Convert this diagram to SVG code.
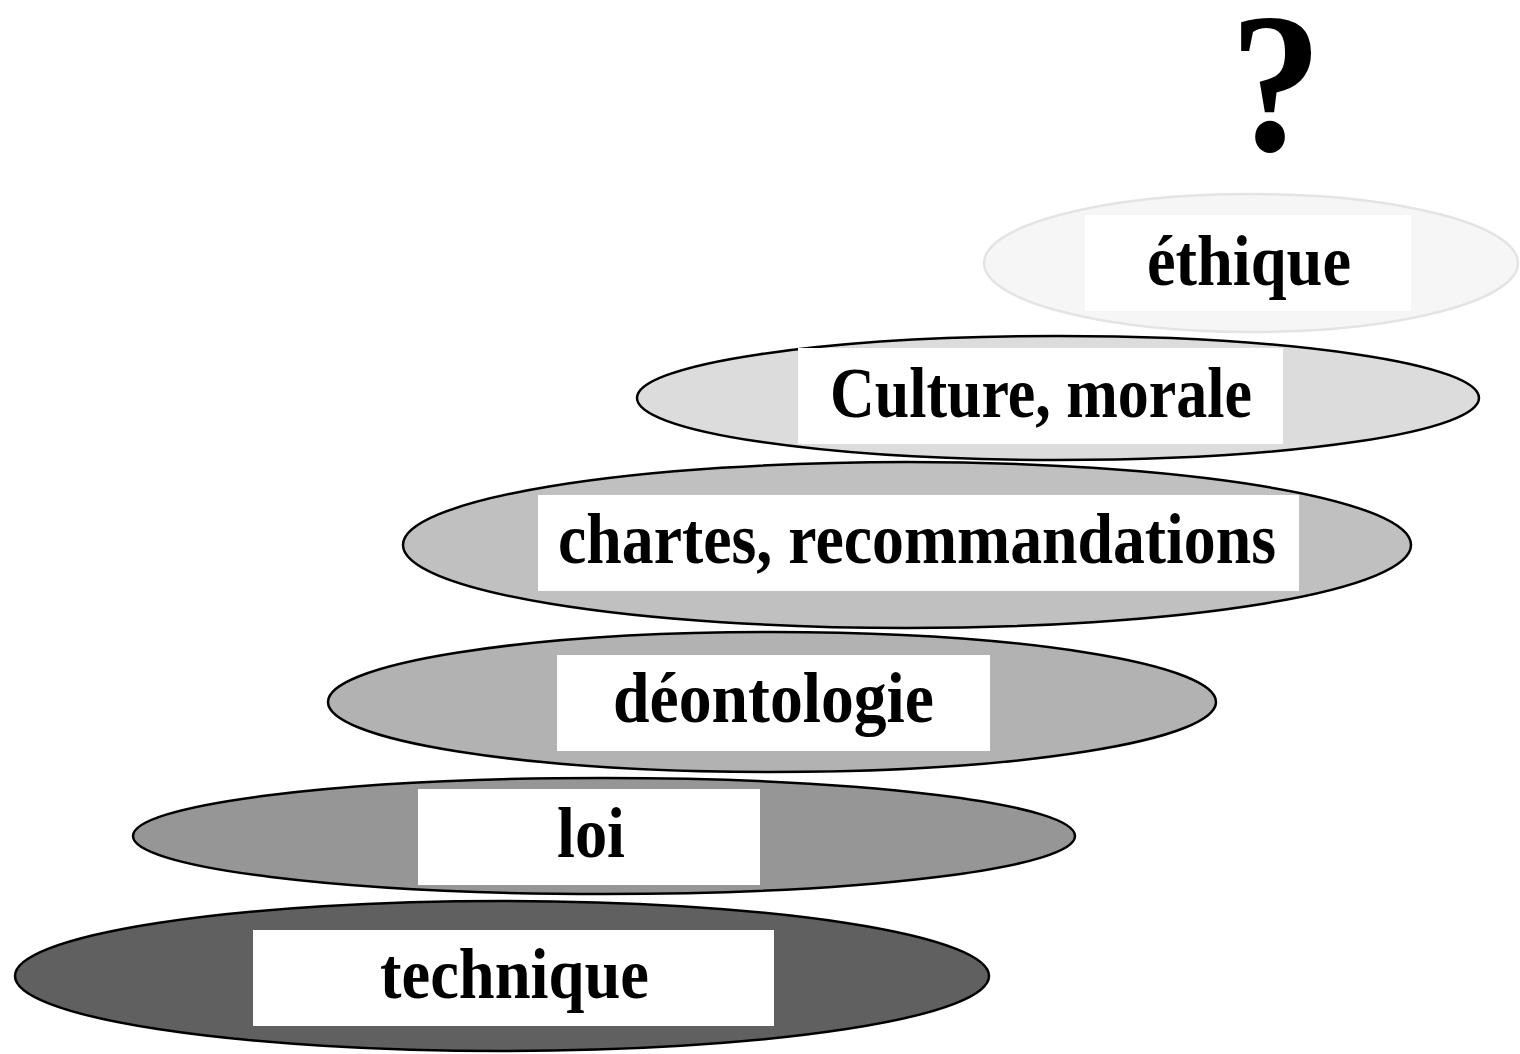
<svg xmlns="http://www.w3.org/2000/svg" width="1520" height="1054" viewBox="0 0 1520 1054">
<style>
.lvl{stroke:#000;stroke-width:2.5}
.box{fill:#fff}
.t{font-family:"Liberation Serif","Times New Roman",serif;font-weight:bold;font-size:72px;fill:#000}
</style>
<rect width="1520" height="1054" fill="#fff"/>
<g id="question">
<text class="t" x="1230" y="150" style="font-size:200px" textLength="92" lengthAdjust="spacingAndGlyphs">?</text>
</g>
<g id="ethique">
<ellipse cx="1251" cy="263" rx="267" ry="69" fill="#f6f6f6" stroke="#e4e4e4" stroke-width="2.5"/>
<rect class="box" x="1085" y="215" width="326" height="96"/>
<text class="t" x="1147" y="285" textLength="204" lengthAdjust="spacingAndGlyphs">éthique</text>
</g>
<g id="culture">
<ellipse class="lvl" cx="1058" cy="398" rx="421" ry="62" fill="#dcdcdc"/>
<rect class="box" x="798" y="348" width="485" height="96"/>
<text class="t" x="830" y="417" textLength="422" lengthAdjust="spacingAndGlyphs">Culture, morale</text>
</g>
<g id="chartes">
<ellipse class="lvl" cx="907" cy="545" rx="504" ry="83" fill="#c0c0c0"/>
<rect class="box" x="538" y="495" width="761" height="96"/>
<text class="t" x="558" y="563" textLength="718" lengthAdjust="spacingAndGlyphs">chartes, recommandations</text>
</g>
<g id="deontologie">
<ellipse class="lvl" cx="772" cy="702" rx="444" ry="70" fill="#b2b2b2"/>
<rect class="box" x="557" y="655" width="433" height="96"/>
<text class="t" x="613" y="722" textLength="321" lengthAdjust="spacingAndGlyphs">déontologie</text>
</g>
<g id="loi">
<ellipse class="lvl" cx="604" cy="836" rx="471" ry="58" fill="#969696"/>
<rect class="box" x="418" y="789" width="342" height="96"/>
<text class="t" x="557" y="857" textLength="68" lengthAdjust="spacingAndGlyphs">loi</text>
</g>
<g id="technique">
<ellipse class="lvl" cx="502" cy="976" rx="487" ry="75" fill="#606060"/>
<rect class="box" x="253" y="930" width="521" height="96"/>
<text class="t" x="380" y="998" textLength="269" lengthAdjust="spacingAndGlyphs">technique</text>
</g>
<g id="connectors"/>
</svg>
